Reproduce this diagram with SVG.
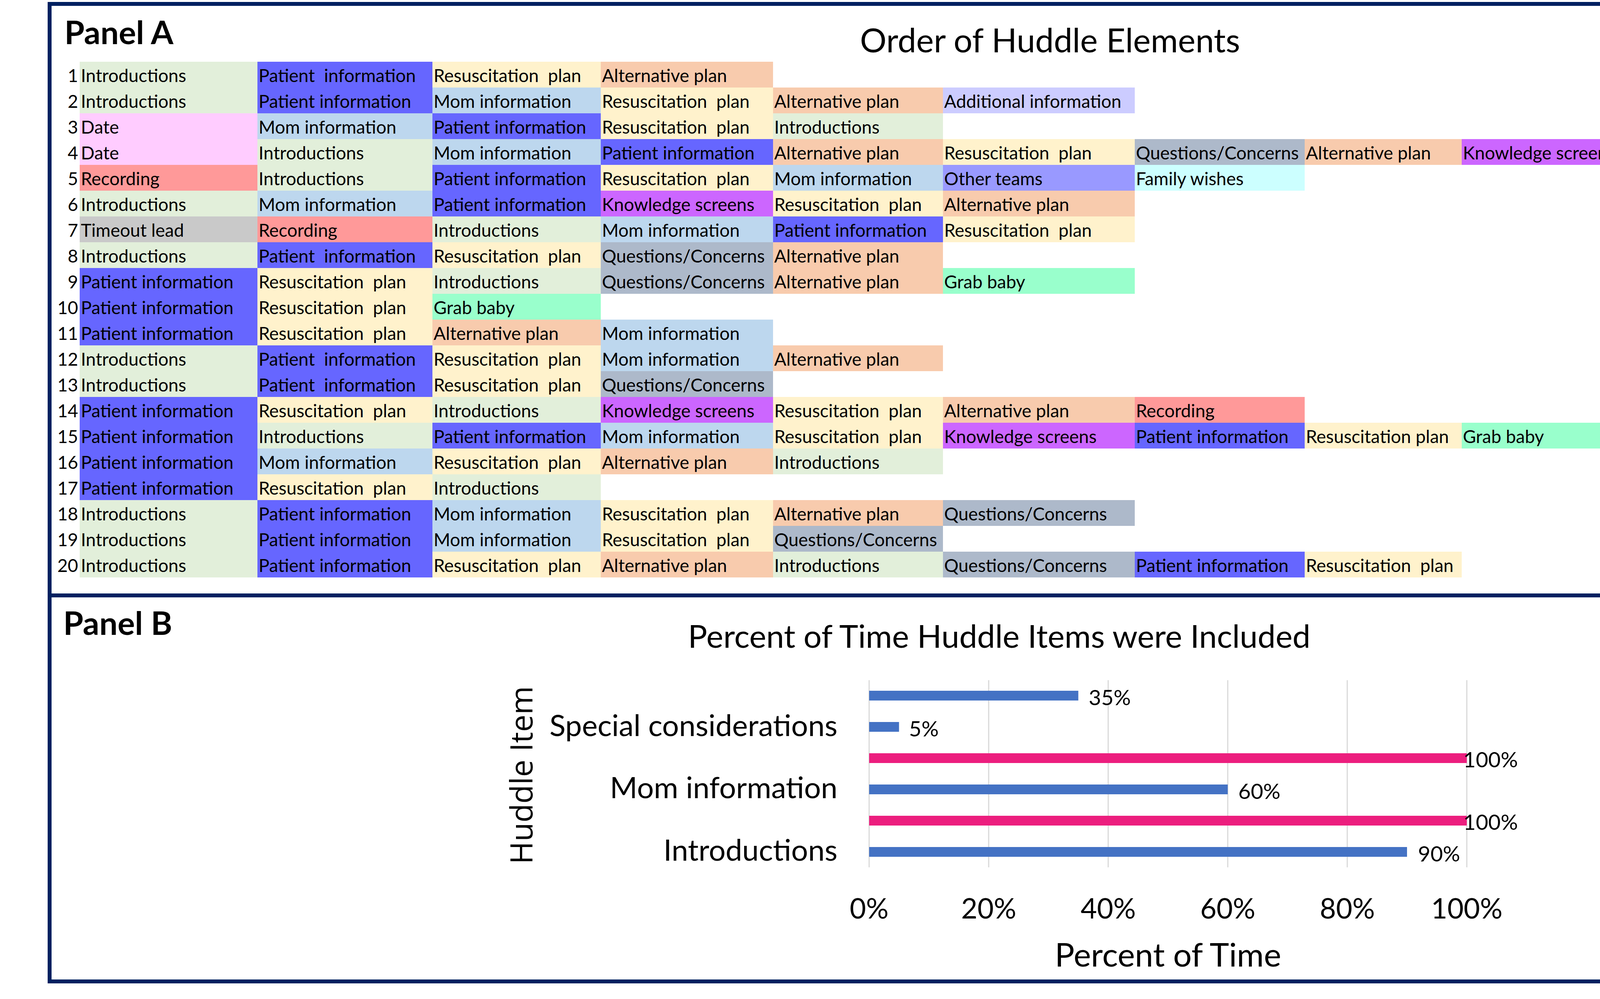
<svg xmlns="http://www.w3.org/2000/svg" width="5245" height="2557" viewBox="0 0 5245 2557" xml:space="preserve">
<style>
text{white-space:pre}
.c{font-family:Lato,"Liberation Sans",sans-serif;font-size:46px;fill:#000}
.n{font-family:Lato,"Liberation Sans",sans-serif;font-size:46px;fill:#000;text-anchor:end}
.in{fill:#E2EFDA}.pi{fill:#6666FF}.rp{fill:#FFF2CC}.ap{fill:#F8CBAD}.mi{fill:#BDD7EE}
.ai{fill:#CCCCFF}.dt{fill:#FFCCFF}.rc{fill:#FF9999}.qc{fill:#ADB9CA}.ks{fill:#CC66FF}
.dd{fill:#FFFFCC}.ot{fill:#9999FF}.fw{fill:#CCFFFF}.tl{fill:#C9C9C9}.gb{fill:#99FFCC}
.panel{font-family:Lato,"Liberation Sans",sans-serif;font-weight:bold;font-size:83px;fill:#000}
.title{font-family:Lato,"Liberation Sans",sans-serif;font-size:85px;fill:#000;text-anchor:middle}
.title2{font-family:Lato,"Liberation Sans",sans-serif;font-size:82px;fill:#000;text-anchor:middle}
.grid{stroke:#D9D9D9;stroke-width:3}
.blue{fill:#4472C4}.pink{fill:#EC1E7E}
.dl{font-family:Lato,"Liberation Sans",sans-serif;font-size:55px;fill:#000}
.cat{font-family:Lato,"Liberation Sans",sans-serif;font-size:76px;fill:#000;text-anchor:end}
.tick{font-family:Lato,"Liberation Sans",sans-serif;font-size:72px;fill:#000;text-anchor:middle}
.axt{font-family:Lato,"Liberation Sans",sans-serif;font-size:84px;fill:#000;text-anchor:middle}
.yax{font-family:"Open Sans","DejaVu Sans",sans-serif;font-size:79px;fill:#000;text-anchor:middle}
.frame{fill:none;stroke:#002060;stroke-width:10}
</style>
<rect x="0" y="0" width="5245" height="2557" fill="#FFFFFF"/>
<g id="frame">
<rect class="frame" x="127" y="10" width="5113" height="2502"/>
<line x1="127" y1="1524" x2="5240" y2="1524" stroke="#002060" stroke-width="10"/>
</g>
<g id="panelA">
<text class="panel" x="165" y="113">Panel A</text>
<text class="title" x="2688" y="134">Order of Huddle Elements</text>
<g id="row1" transform="translate(0,158)">
<text class="n" x="200" y="52">1</text>
<rect class="in" x="204" y="0" width="455" height="66"/><text class="c" x="207" y="52">Introductions</text>
<rect class="pi" x="659" y="0" width="448" height="66"/><text class="c" x="662" y="52">Patient  information</text>
<rect class="rp" x="1107" y="0" width="431" height="66"/><text class="c" x="1110" y="52">Resuscitation  plan</text>
<rect class="ap" x="1538" y="0" width="441" height="66"/><text class="c" x="1541" y="52">Alternative plan</text>
</g>
<g id="row2" transform="translate(0,224)">
<text class="n" x="200" y="52">2</text>
<rect class="in" x="204" y="0" width="455" height="66"/><text class="c" x="207" y="52">Introductions</text>
<rect class="pi" x="659" y="0" width="448" height="66"/><text class="c" x="662" y="52">Patient information</text>
<rect class="mi" x="1107" y="0" width="431" height="66"/><text class="c" x="1110" y="52">Mom information</text>
<rect class="rp" x="1538" y="0" width="441" height="66"/><text class="c" x="1541" y="52">Resuscitation  plan</text>
<rect class="ap" x="1979" y="0" width="435" height="66"/><text class="c" x="1982" y="52">Alternative plan</text>
<rect class="ai" x="2414" y="0" width="491" height="66"/><text class="c" x="2417" y="52">Additional information</text>
</g>
<g id="row3" transform="translate(0,290)">
<text class="n" x="200" y="52">3</text>
<rect class="dt" x="204" y="0" width="455" height="66"/><text class="c" x="207" y="52">Date</text>
<rect class="mi" x="659" y="0" width="448" height="66"/><text class="c" x="662" y="52">Mom information</text>
<rect class="pi" x="1107" y="0" width="431" height="66"/><text class="c" x="1110" y="52">Patient information</text>
<rect class="rp" x="1538" y="0" width="441" height="66"/><text class="c" x="1541" y="52">Resuscitation  plan</text>
<rect class="in" x="1979" y="0" width="435" height="66"/><text class="c" x="1982" y="52">Introductions</text>
</g>
<g id="row4" transform="translate(0,356)">
<text class="n" x="200" y="52">4</text>
<rect class="dt" x="204" y="0" width="455" height="66"/><text class="c" x="207" y="52">Date</text>
<rect class="in" x="659" y="0" width="448" height="66"/><text class="c" x="662" y="52">Introductions</text>
<rect class="mi" x="1107" y="0" width="431" height="66"/><text class="c" x="1110" y="52">Mom information</text>
<rect class="pi" x="1538" y="0" width="441" height="66"/><text class="c" x="1541" y="52">Patient information</text>
<rect class="ap" x="1979" y="0" width="435" height="66"/><text class="c" x="1982" y="52">Alternative plan</text>
<rect class="rp" x="2414" y="0" width="491" height="66"/><text class="c" x="2417" y="52">Resuscitation  plan</text>
<rect class="qc" x="2905" y="0" width="435" height="66"/><text class="c" x="2908" y="52">Questions/Concerns</text>
<rect class="ap" x="3340" y="0" width="402" height="66"/><text class="c" x="3343" y="52">Alternative plan</text>
<rect class="ks" x="3742" y="0" width="433" height="66"/><text class="c" x="3745" y="52">Knowledge screens</text>
<rect class="dd" x="4175" y="0" width="408" height="66"/><text class="c" x="4178" y="52">Door duty</text>
<rect class="rc" x="4583" y="0" width="588" height="66"/><text class="c" x="4586" y="52">Recording</text>
</g>
<g id="row5" transform="translate(0,422)">
<text class="n" x="200" y="52">5</text>
<rect class="rc" x="204" y="0" width="455" height="66"/><text class="c" x="207" y="52">Recording</text>
<rect class="in" x="659" y="0" width="448" height="66"/><text class="c" x="662" y="52">Introductions</text>
<rect class="pi" x="1107" y="0" width="431" height="66"/><text class="c" x="1110" y="52">Patient information</text>
<rect class="rp" x="1538" y="0" width="441" height="66"/><text class="c" x="1541" y="52">Resuscitation  plan</text>
<rect class="mi" x="1979" y="0" width="435" height="66"/><text class="c" x="1982" y="52">Mom information</text>
<rect class="ot" x="2414" y="0" width="491" height="66"/><text class="c" x="2417" y="52">Other teams</text>
<rect class="fw" x="2905" y="0" width="435" height="66"/><text class="c" x="2908" y="52">Family wishes</text>
</g>
<g id="row6" transform="translate(0,488)">
<text class="n" x="200" y="52">6</text>
<rect class="in" x="204" y="0" width="455" height="66"/><text class="c" x="207" y="52">Introductions</text>
<rect class="mi" x="659" y="0" width="448" height="66"/><text class="c" x="662" y="52">Mom information</text>
<rect class="pi" x="1107" y="0" width="431" height="66"/><text class="c" x="1110" y="52">Patient information</text>
<rect class="ks" x="1538" y="0" width="441" height="66"/><text class="c" x="1541" y="52">Knowledge screens</text>
<rect class="rp" x="1979" y="0" width="435" height="66"/><text class="c" x="1982" y="52">Resuscitation  plan</text>
<rect class="ap" x="2414" y="0" width="491" height="66"/><text class="c" x="2417" y="52">Alternative plan</text>
</g>
<g id="row7" transform="translate(0,554)">
<text class="n" x="200" y="52">7</text>
<rect class="tl" x="204" y="0" width="455" height="66"/><text class="c" x="207" y="52">Timeout lead</text>
<rect class="rc" x="659" y="0" width="448" height="66"/><text class="c" x="662" y="52">Recording</text>
<rect class="in" x="1107" y="0" width="431" height="66"/><text class="c" x="1110" y="52">Introductions</text>
<rect class="mi" x="1538" y="0" width="441" height="66"/><text class="c" x="1541" y="52">Mom information</text>
<rect class="pi" x="1979" y="0" width="435" height="66"/><text class="c" x="1982" y="52">Patient information</text>
<rect class="rp" x="2414" y="0" width="491" height="66"/><text class="c" x="2417" y="52">Resuscitation  plan</text>
</g>
<g id="row8" transform="translate(0,620)">
<text class="n" x="200" y="52">8</text>
<rect class="in" x="204" y="0" width="455" height="66"/><text class="c" x="207" y="52">Introductions</text>
<rect class="pi" x="659" y="0" width="448" height="66"/><text class="c" x="662" y="52">Patient  information</text>
<rect class="rp" x="1107" y="0" width="431" height="66"/><text class="c" x="1110" y="52">Resuscitation  plan</text>
<rect class="qc" x="1538" y="0" width="441" height="66"/><text class="c" x="1541" y="52">Questions/Concerns</text>
<rect class="ap" x="1979" y="0" width="435" height="66"/><text class="c" x="1982" y="52">Alternative plan</text>
</g>
<g id="row9" transform="translate(0,686)">
<text class="n" x="200" y="52">9</text>
<rect class="pi" x="204" y="0" width="455" height="66"/><text class="c" x="207" y="52">Patient information</text>
<rect class="rp" x="659" y="0" width="448" height="66"/><text class="c" x="662" y="52">Resuscitation  plan</text>
<rect class="in" x="1107" y="0" width="431" height="66"/><text class="c" x="1110" y="52">Introductions</text>
<rect class="qc" x="1538" y="0" width="441" height="66"/><text class="c" x="1541" y="52">Questions/Concerns</text>
<rect class="ap" x="1979" y="0" width="435" height="66"/><text class="c" x="1982" y="52">Alternative plan</text>
<rect class="gb" x="2414" y="0" width="491" height="66"/><text class="c" x="2417" y="52">Grab baby</text>
</g>
<g id="row10" transform="translate(0,752)">
<text class="n" x="200" y="52">10</text>
<rect class="pi" x="204" y="0" width="455" height="66"/><text class="c" x="207" y="52">Patient information</text>
<rect class="rp" x="659" y="0" width="448" height="66"/><text class="c" x="662" y="52">Resuscitation  plan</text>
<rect class="gb" x="1107" y="0" width="431" height="66"/><text class="c" x="1110" y="52">Grab baby</text>
</g>
<g id="row11" transform="translate(0,818)">
<text class="n" x="200" y="52">11</text>
<rect class="pi" x="204" y="0" width="455" height="66"/><text class="c" x="207" y="52">Patient information</text>
<rect class="rp" x="659" y="0" width="448" height="66"/><text class="c" x="662" y="52">Resuscitation  plan</text>
<rect class="ap" x="1107" y="0" width="431" height="66"/><text class="c" x="1110" y="52">Alternative plan</text>
<rect class="mi" x="1538" y="0" width="441" height="66"/><text class="c" x="1541" y="52">Mom information</text>
</g>
<g id="row12" transform="translate(0,884)">
<text class="n" x="200" y="52">12</text>
<rect class="in" x="204" y="0" width="455" height="66"/><text class="c" x="207" y="52">Introductions</text>
<rect class="pi" x="659" y="0" width="448" height="66"/><text class="c" x="662" y="52">Patient  information</text>
<rect class="rp" x="1107" y="0" width="431" height="66"/><text class="c" x="1110" y="52">Resuscitation  plan</text>
<rect class="mi" x="1538" y="0" width="441" height="66"/><text class="c" x="1541" y="52">Mom information</text>
<rect class="ap" x="1979" y="0" width="435" height="66"/><text class="c" x="1982" y="52">Alternative plan</text>
</g>
<g id="row13" transform="translate(0,950)">
<text class="n" x="200" y="52">13</text>
<rect class="in" x="204" y="0" width="455" height="66"/><text class="c" x="207" y="52">Introductions</text>
<rect class="pi" x="659" y="0" width="448" height="66"/><text class="c" x="662" y="52">Patient  information</text>
<rect class="rp" x="1107" y="0" width="431" height="66"/><text class="c" x="1110" y="52">Resuscitation  plan</text>
<rect class="qc" x="1538" y="0" width="441" height="66"/><text class="c" x="1541" y="52">Questions/Concerns</text>
</g>
<g id="row14" transform="translate(0,1016)">
<text class="n" x="200" y="52">14</text>
<rect class="pi" x="204" y="0" width="455" height="66"/><text class="c" x="207" y="52">Patient information</text>
<rect class="rp" x="659" y="0" width="448" height="66"/><text class="c" x="662" y="52">Resuscitation  plan</text>
<rect class="in" x="1107" y="0" width="431" height="66"/><text class="c" x="1110" y="52">Introductions</text>
<rect class="ks" x="1538" y="0" width="441" height="66"/><text class="c" x="1541" y="52">Knowledge screens</text>
<rect class="rp" x="1979" y="0" width="435" height="66"/><text class="c" x="1982" y="52">Resuscitation  plan</text>
<rect class="ap" x="2414" y="0" width="491" height="66"/><text class="c" x="2417" y="52">Alternative plan</text>
<rect class="rc" x="2905" y="0" width="435" height="66"/><text class="c" x="2908" y="52">Recording</text>
</g>
<g id="row15" transform="translate(0,1082)">
<text class="n" x="200" y="52">15</text>
<rect class="pi" x="204" y="0" width="455" height="66"/><text class="c" x="207" y="52">Patient information</text>
<rect class="in" x="659" y="0" width="448" height="66"/><text class="c" x="662" y="52">Introductions</text>
<rect class="pi" x="1107" y="0" width="431" height="66"/><text class="c" x="1110" y="52">Patient information</text>
<rect class="mi" x="1538" y="0" width="441" height="66"/><text class="c" x="1541" y="52">Mom information</text>
<rect class="rp" x="1979" y="0" width="435" height="66"/><text class="c" x="1982" y="52">Resuscitation  plan</text>
<rect class="ks" x="2414" y="0" width="491" height="66"/><text class="c" x="2417" y="52">Knowledge screens</text>
<rect class="pi" x="2905" y="0" width="435" height="66"/><text class="c" x="2908" y="52">Patient information</text>
<rect class="rp" x="3340" y="0" width="402" height="66"/><text class="c" x="3343" y="52">Resuscitation plan</text>
<rect class="gb" x="3742" y="0" width="433" height="66"/><text class="c" x="3745" y="52">Grab baby</text>
<rect class="rp" x="4175" y="0" width="408" height="66"/><text class="c" x="4178" y="52">Resuscitation  plan</text>
</g>
<g id="row16" transform="translate(0,1148)">
<text class="n" x="200" y="52">16</text>
<rect class="pi" x="204" y="0" width="455" height="66"/><text class="c" x="207" y="52">Patient information</text>
<rect class="mi" x="659" y="0" width="448" height="66"/><text class="c" x="662" y="52">Mom information</text>
<rect class="rp" x="1107" y="0" width="431" height="66"/><text class="c" x="1110" y="52">Resuscitation  plan</text>
<rect class="ap" x="1538" y="0" width="441" height="66"/><text class="c" x="1541" y="52">Alternative plan</text>
<rect class="in" x="1979" y="0" width="435" height="66"/><text class="c" x="1982" y="52">Introductions</text>
</g>
<g id="row17" transform="translate(0,1214)">
<text class="n" x="200" y="52">17</text>
<rect class="pi" x="204" y="0" width="455" height="66"/><text class="c" x="207" y="52">Patient information</text>
<rect class="rp" x="659" y="0" width="448" height="66"/><text class="c" x="662" y="52">Resuscitation  plan</text>
<rect class="in" x="1107" y="0" width="431" height="66"/><text class="c" x="1110" y="52">Introductions</text>
</g>
<g id="row18" transform="translate(0,1280)">
<text class="n" x="200" y="52">18</text>
<rect class="in" x="204" y="0" width="455" height="66"/><text class="c" x="207" y="52">Introductions</text>
<rect class="pi" x="659" y="0" width="448" height="66"/><text class="c" x="662" y="52">Patient information</text>
<rect class="mi" x="1107" y="0" width="431" height="66"/><text class="c" x="1110" y="52">Mom information</text>
<rect class="rp" x="1538" y="0" width="441" height="66"/><text class="c" x="1541" y="52">Resuscitation  plan</text>
<rect class="ap" x="1979" y="0" width="435" height="66"/><text class="c" x="1982" y="52">Alternative plan</text>
<rect class="qc" x="2414" y="0" width="491" height="66"/><text class="c" x="2417" y="52">Questions/Concerns</text>
</g>
<g id="row19" transform="translate(0,1346)">
<text class="n" x="200" y="52">19</text>
<rect class="in" x="204" y="0" width="455" height="66"/><text class="c" x="207" y="52">Introductions</text>
<rect class="pi" x="659" y="0" width="448" height="66"/><text class="c" x="662" y="52">Patient information</text>
<rect class="mi" x="1107" y="0" width="431" height="66"/><text class="c" x="1110" y="52">Mom information</text>
<rect class="rp" x="1538" y="0" width="441" height="66"/><text class="c" x="1541" y="52">Resuscitation  plan</text>
<rect class="qc" x="1979" y="0" width="435" height="66"/><text class="c" x="1982" y="52">Questions/Concerns</text>
</g>
<g id="row20" transform="translate(0,1412)">
<text class="n" x="200" y="52">20</text>
<rect class="in" x="204" y="0" width="455" height="66"/><text class="c" x="207" y="52">Introductions</text>
<rect class="pi" x="659" y="0" width="448" height="66"/><text class="c" x="662" y="52">Patient information</text>
<rect class="rp" x="1107" y="0" width="431" height="66"/><text class="c" x="1110" y="52">Resuscitation  plan</text>
<rect class="ap" x="1538" y="0" width="441" height="66"/><text class="c" x="1541" y="52">Alternative plan</text>
<rect class="in" x="1979" y="0" width="435" height="66"/><text class="c" x="1982" y="52">Introductions</text>
<rect class="qc" x="2414" y="0" width="491" height="66"/><text class="c" x="2417" y="52">Questions/Concerns</text>
<rect class="pi" x="2905" y="0" width="435" height="66"/><text class="c" x="2908" y="52">Patient information</text>
<rect class="rp" x="3340" y="0" width="402" height="66"/><text class="c" x="3343" y="52">Resuscitation  plan</text>
</g>
</g>
<g id="panelB">
<text class="panel" x="162" y="1625">Panel B</text>
<text class="title2" x="2558" y="1658">Percent of Time Huddle Items were Included</text>
<g id="gridlines">
<line class="grid" x1="2225" y1="1741" x2="2225" y2="2220"/>
<line class="grid" x1="2531" y1="1741" x2="2531" y2="2220"/>
<line class="grid" x1="2837" y1="1741" x2="2837" y2="2220"/>
<line class="grid" x1="3143" y1="1741" x2="3143" y2="2220"/>
<line class="grid" x1="3449" y1="1741" x2="3449" y2="2220"/>
<line class="grid" x1="3755" y1="1741" x2="3755" y2="2220"/>
</g>
<g id="bars">
<rect class="blue" x="2225" y="1768" width="535.5" height="25"/>
<rect class="blue" x="2225" y="1848" width="76.5" height="25"/>
<rect class="pink" x="2225" y="1928" width="1530" height="25"/>
<rect class="blue" x="2225" y="2008" width="918" height="25"/>
<rect class="pink" x="2225" y="2088" width="1530" height="25"/>
<rect class="blue" x="2225" y="2168" width="1377" height="25"/>
</g>
<g id="datalabels">
<text class="dl" x="2787" y="1805">35%</text>
<text class="dl" x="2327" y="1885">5%</text>
<text class="dl" x="3746" y="1964">100%</text>
<text class="dl" x="3170" y="2045">60%</text>
<text class="dl" x="3746" y="2124">100%</text>
<text class="dl" x="3630" y="2205">90%</text>
</g>
<g id="categories">
<text class="cat" x="2144" y="1884">Special considerations</text>
<text class="cat" x="2144" y="2043">Mom information</text>
<text class="cat" x="2144" y="2203">Introductions</text>
</g>
<g id="ticks">
<text class="tick" x="2225" y="2351">0%</text>
<text class="tick" x="2531" y="2351">20%</text>
<text class="tick" x="2837" y="2351">40%</text>
<text class="tick" x="3143" y="2351">60%</text>
<text class="tick" x="3449" y="2351">80%</text>
<text class="tick" x="3755" y="2351">100%</text>
</g>
<text class="axt" x="2990" y="2474">Percent of Time</text>
<text class="yax" transform="translate(1363,1984) rotate(-90)" x="0" y="0">Huddle Item</text>
</g>
</svg>
